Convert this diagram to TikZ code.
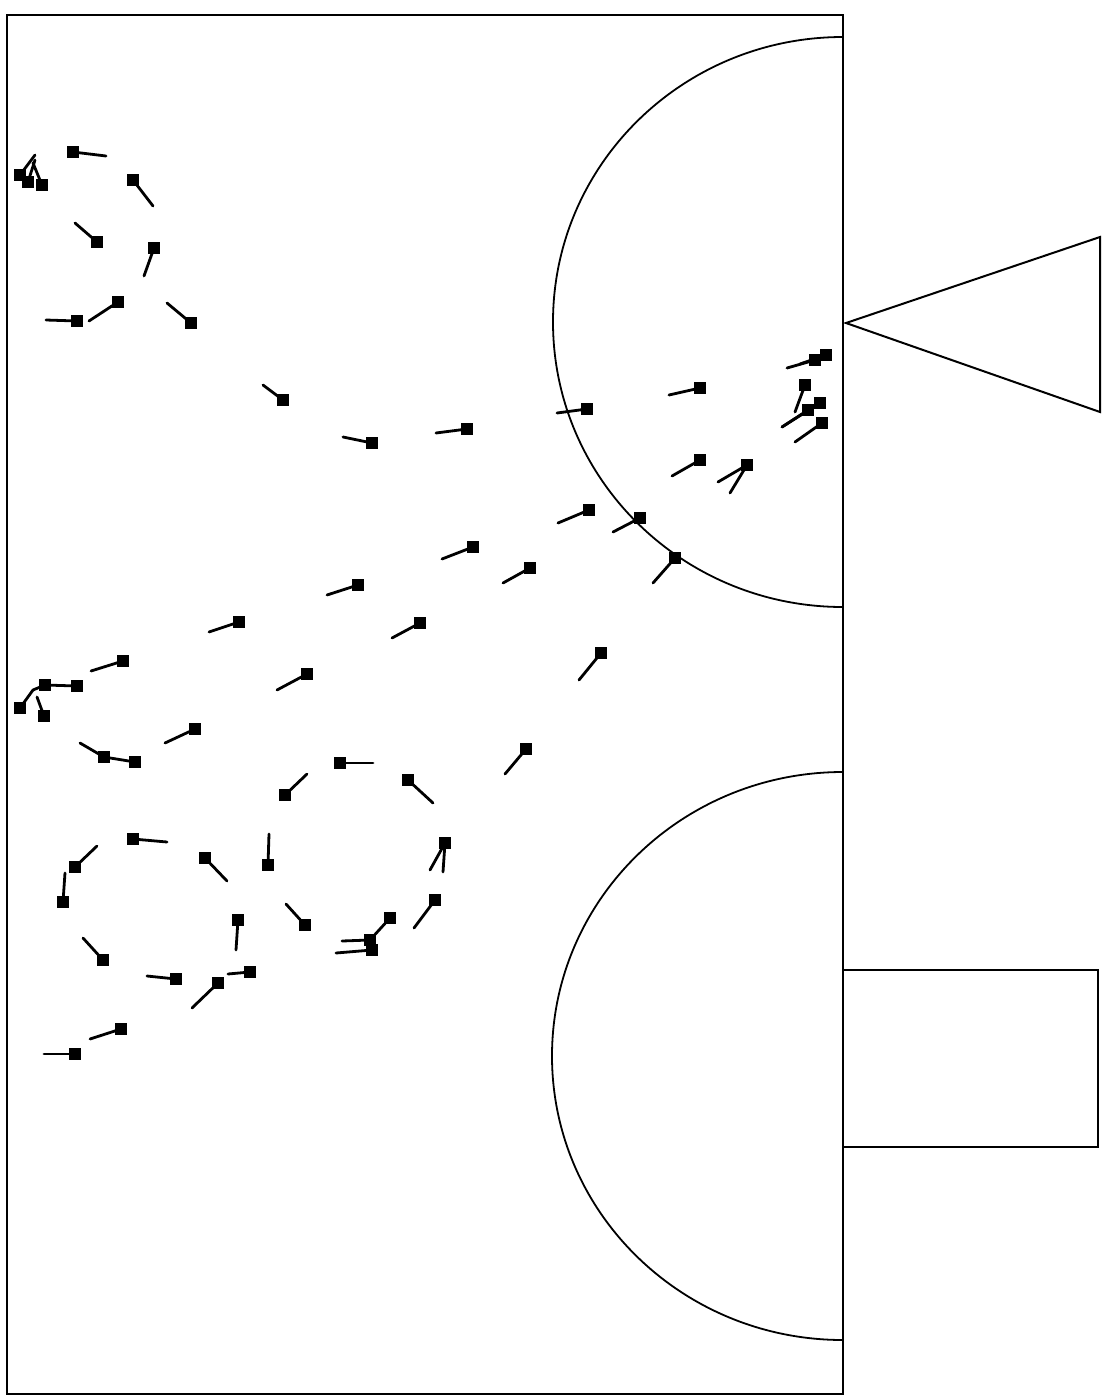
\documentclass[tikz,border=0pt]{standalone}
\begin{document}
\begin{tikzpicture}[x=1pt,y=-1pt,
  frame/.style={draw=black,line width=2pt},
  tail/.style={line width=2.8pt,line cap=round},
  sq/.style={fill=black,draw=none,minimum size=12.5pt,inner sep=0pt,outer sep=0pt,rectangle}]
\useasboundingbox (0,0) rectangle (1113,1398);
\newcommand\mk[4]{\draw[tail] (#1,#2) -- (#3,#4); \node[sq] at (#1,#2) {};}
% field
\draw[frame] (7,15) rectangle (843,1394);
\draw[frame,line width=1.8pt] (843,37) arc[start angle=-90,end angle=-270,x radius=290,y radius=285];
\draw[frame,line width=1.8pt] (843,772) arc[start angle=-90,end angle=-270,x radius=291,y radius=284];
\draw[frame] (846,323) -- (1100,237) -- (1100,412) -- cycle;
\draw[frame] (843,970) rectangle (1098,1147);
% top-left group
\mk{20}{175}{35}{155}
\mk{28}{182}{35}{160}
\mk{42}{185}{33}{163}
\mk{73}{152}{106}{156}
\mk{133}{180}{153}{206}
\mk{97}{242}{75}{223}
\mk{154}{248}{144}{276}
\mk{77}{321}{46}{320}
\mk{118}{302}{89}{321}
\mk{191}{323}{167}{303}
% middle diagonal
\mk{283}{400}{263}{385}
\mk{372}{443}{343}{437}
\mk{467}{429}{436}{433}
\mk{587}{409}{557}{413}
\mk{700}{388}{669}{395}
\mk{815}{360}{787}{368}
\mk{826}{355}{800}{364}
\mk{805}{385}{795}{412}
\mk{820}{403}{782}{427}
\mk{808}{410}{782}{427}
\mk{822}{423}{795}{442}
\mk{700}{460}{672}{476}
\mk{747}{465}{718}{482}
\draw[tail] (747,465) -- (730,493);
\mk{589}{510}{558}{523}
\mk{640}{518}{613}{532}
\mk{675}{558}{653}{583}
\mk{473}{547}{442}{559}
\mk{530}{568}{503}{583}
\mk{358}{585}{327}{595}
\mk{239}{622}{209}{632}
\mk{420}{623}{392}{638}
\mk{307}{674}{277}{690}
\mk{601}{653}{579}{680}
\mk{526}{749}{505}{774}
% left cluster
\mk{123}{661}{91}{671}
\mk{77}{686}{45}{685}
\mk{45}{685}{33}{690}
\mk{20}{708}{33}{690}
\mk{44}{716}{37}{697}
\mk{195}{729}{165}{743}
\mk{104}{757}{80}{743}
\mk{135}{762}{104}{757}
% right loop
\mk{340}{763}{373}{763}
\mk{408}{780}{433}{803}
\mk{285}{795}{307}{774}
\mk{268}{865}{269}{834}
\mk{445}{843}{430}{870}
\draw[tail] (445,843) -- (443,872);
\mk{305}{925}{286}{904}
\mk{435}{900}{414}{928}
\mk{390}{918}{370}{940}
\mk{370}{940}{342}{941}
\mk{372}{950}{336}{953}
% left loop
\mk{133}{839}{167}{842}
\mk{75}{867}{97}{846}
\mk{63}{902}{65}{873}
\mk{205}{858}{227}{881}
\mk{238}{920}{236}{950}
\mk{103}{960}{83}{938}
\mk{176}{979}{147}{976}
\mk{218}{983}{192}{1008}
\mk{250}{972}{228}{974}
\mk{121}{1029}{90}{1039}
\mk{75}{1054}{44}{1054}
\end{tikzpicture}
\end{document}
